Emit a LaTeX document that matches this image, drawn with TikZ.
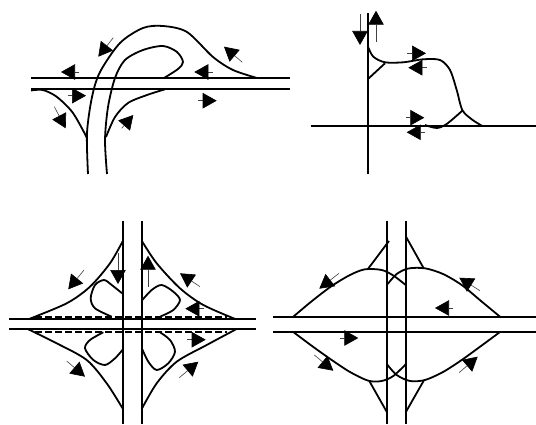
\documentclass[tikz,border=0pt]{standalone}
\usetikzlibrary{arrows.meta}
\tikzset{
  road/.style={line width=1.7pt,black},
  ramp/.style={line width=1.8pt,black,line join=round},
  sm/.style={ramp,smooth,tension=0.5},
  arr/.style={line width=0.6pt,black!75,-{Triangle[length=14pt,width=15.5pt,fill=black,color=black]}},
  dashline/.style={line width=1.7pt,dash pattern=on 7pt off 3pt}
}
\begin{document}
\begin{tikzpicture}[x=1pt,y=-1pt]
\useasboundingbox (0,0) rectangle (536,425);
% Panel 1
\draw[road] (31,78) -- (290,78);
\draw[road] (31,89.3) -- (290,89.3);
\draw[sm] plot coordinates {(88,174) (87,133) (92,97) (100,72) (120,43) (143,28) (163,26) (187,32) (213,57) (233,70) (257,78)};
\draw[sm] plot coordinates {(107,174) (105,140) (108,107) (115,78) (125,60) (143,50) (163,46) (177,52) (183,62) (178,69) (164,78)};
\draw[sm] plot coordinates {(31,90.5) (43,90) (57,97) (73,113) (87,138)};
\draw[sm] plot coordinates {(106,137) (115,117) (128,103) (147,95) (165,89.3)};
\draw[arr] (113.3,37.7) -- (98.3,56.7);
\draw[arr] (79.3,72) -- (61,72);
\draw[arr] (67.7,95.7) -- (86,95.7);
\draw[arr] (54.3,106.7) -- (65.7,128.3);
\draw[arr] (121.7,128.3) -- (133.3,115);
\draw[arr] (212.7,72) -- (194.3,72);
\draw[arr] (198.3,100.7) -- (216.7,100.7);
\draw[arr] (242.3,62.3) -- (224,46.7);
% Panel 2
\draw[road] (368,13.3) -- (368,174);
\draw[road] (310.7,125.7) -- (536,125.7);
\draw[sm] plot coordinates {(368,46.7) (373.3,56.7) (385,62.3) (403.3,62.3) (423.3,59.3) (440,60) (450,70) (456.7,90) (462.3,110) (471.7,119.3) (481.7,125.7)};
\draw[ramp] (368,79) -- (385,63.3);
\draw[sm] plot coordinates {(462.3,110.7) (446.7,124) (436.7,128) (425,125)};
\draw[arr] (360,14) -- (360,45);
\draw[arr] (376,41.7) -- (376,10.7);
\draw[arr] (407.3,53.3) -- (426,53.3);
\draw[arr] (426.7,67.7) -- (408.3,67.7);
\draw[arr] (405.7,117.7) -- (424.3,117.7);
\draw[arr] (425,132.3) -- (406.7,132.3);
% Panel 3
\draw[road] (123,221) -- (123,424.3);
\draw[road] (141.7,221) -- (141.7,424.3);
\draw[road] (9,319.3) -- (255.7,319.3);
\draw[road] (9,329.3) -- (255.7,329.3);
\draw[dashline] (35,316.7) -- (226.7,316.7);
\draw[dashline] (35,332.3) -- (226.7,332.3);
\draw[sm] plot coordinates {(123,240.7) (110,263.3) (90,286.7) (66.7,303.3) (28.3,319.3)};
\draw[sm] plot coordinates {(141.7,240.7) (156.7,263.3) (180,288.3) (203.3,305) (236,319.3)};
\draw[sm] plot coordinates {(28.3,329.3) (56.7,343.3) (86.7,360) (106.7,383.3) (123,409)};
\draw[sm] plot coordinates {(236,329.3) (206.7,345) (176.7,361.7) (156.7,383.3) (141.7,409)};
\draw[sm] plot coordinates {(123,294) (111.7,285) (104,280) (95,285) (90.7,298.3) (95,308.3) (111.7,316.7)};
\draw[sm] plot coordinates {(141.7,300.7) (151.7,290) (161.7,285) (173.3,291.7) (180,300) (173.3,310) (160,316.7)};
\draw[sm] plot coordinates {(103.3,332.3) (90,340) (85,348.3) (93.3,360) (105,365) (115,358.3) (123,349.3)};
\draw[sm] plot coordinates {(160,332.3) (170,340) (175,351.7) (168.3,363.3) (156.7,370) (148.3,361.7) (142.3,349.3)};
\draw[arr] (84,270) -- (68.3,289.3);
\draw[arr] (118,253.3) -- (118,284);
\draw[arr] (148,286.7) -- (148,255.7);
\draw[arr] (200,286.7) -- (180,273.3);
\draw[arr] (204,308.7) -- (185.3,308.7);
\draw[arr] (187.3,339.7) -- (205.7,339.7);
\draw[arr] (66.7,361) -- (85,376.7);
\draw[arr] (179.3,377.7) -- (198.3,361.7);
% Panel 4
\draw[road] (387,220.7) -- (387,424.3);
\draw[road] (405.7,220.7) -- (405.7,424.3);
\draw[road] (273,316.7) -- (535.7,316.7);
\draw[road] (273,332) -- (535.7,332);
\draw[sm] plot coordinates {(293.3,316.7) (312,301) (331.7,286) (350,275) (365,269.3) (381.7,270) (393.3,275.5) (405.7,285)};
\draw[sm] plot coordinates {(500,316.7) (481,301) (461.7,285) (443,274) (425,268.3) (408.3,268.5) (396.7,274) (387.7,284)};
\draw[ramp] (367.7,269.3) -- (389,241);
\draw[ramp] (423.7,268.3) -- (406,236.7);
\draw[sm] plot coordinates {(293.3,332) (312,346) (331.7,360) (350,372) (368.3,380.7) (381.7,381) (393.3,376) (405.7,364.3)};
\draw[sm] plot coordinates {(500,332) (481,346) (461.7,360) (443,372) (425,380) (410,381) (396.7,375) (387,364.3)};
\draw[ramp] (369.3,381) -- (387,412.3);
\draw[ramp] (423.7,380.7) -- (405.7,412.3);
\draw[arr] (339,273.3) -- (319.3,288.7);
\draw[arr] (480,290.7) -- (459.3,277.7);
\draw[arr] (453.3,308) -- (435,308);
\draw[arr] (340,338) -- (358.3,338);
\draw[arr] (314.3,355) -- (333.3,370.7);
\draw[arr] (459,372.7) -- (477.7,356.7);
\end{tikzpicture}
\end{document}
